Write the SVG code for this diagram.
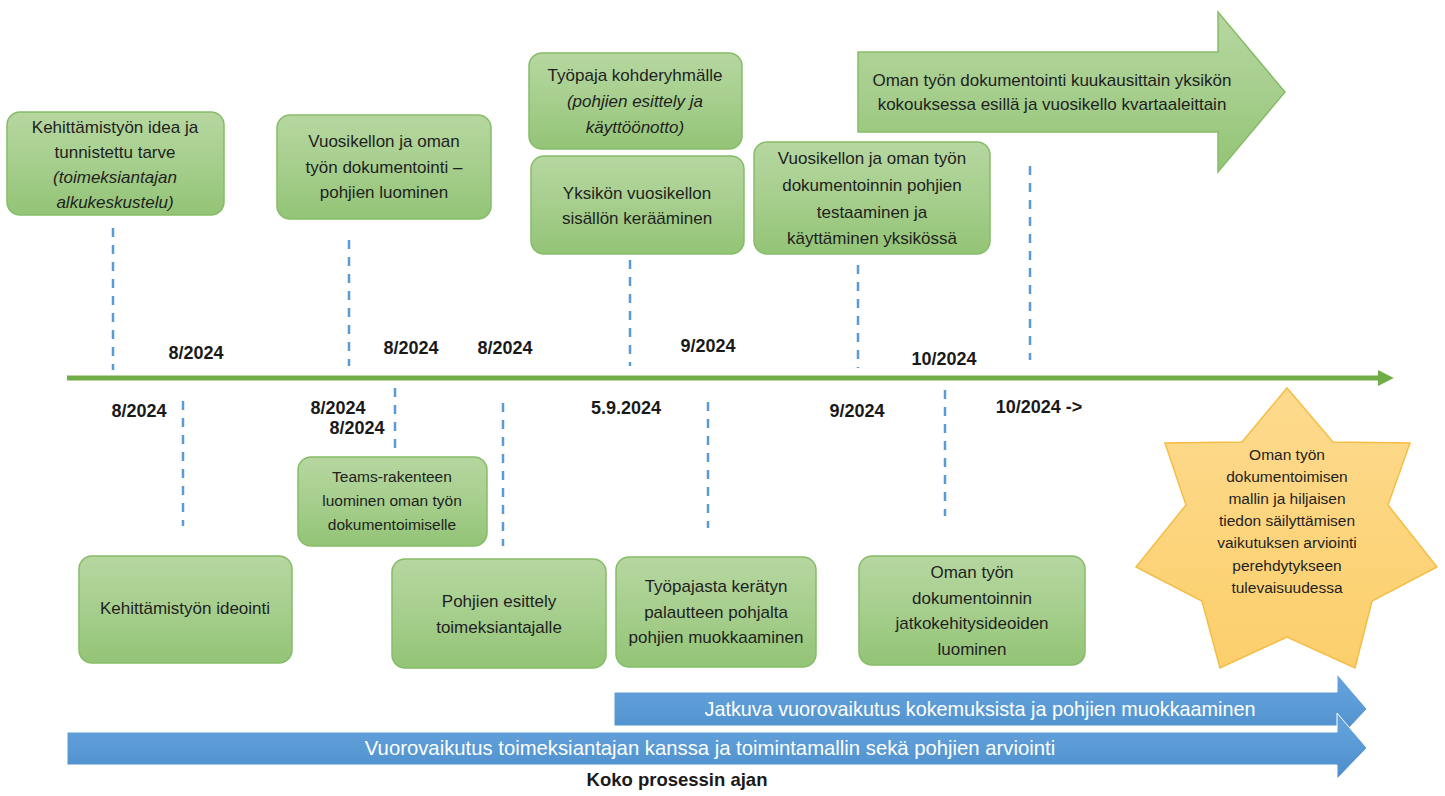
<svg xmlns="http://www.w3.org/2000/svg" width="1445" height="796" viewBox="0 0 1445 796">
<defs>
<linearGradient id="gg" x1="0" y1="0" x2="0" y2="1">
<stop offset="0" stop-color="#b6d7a0"/>
<stop offset="0.5" stop-color="#a6ce8d"/>
<stop offset="1" stop-color="#93c476"/>
</linearGradient>
<linearGradient id="bg" x1="0" y1="0" x2="0" y2="1">
<stop offset="0" stop-color="#65a2dd"/>
<stop offset="0.5" stop-color="#5b9bd5"/>
<stop offset="1" stop-color="#4a8ccb"/>
</linearGradient>
<linearGradient id="yg" x1="0" y1="0" x2="0" y2="1">
<stop offset="0" stop-color="#fdda8e"/>
<stop offset="1" stop-color="#fccf6c"/>
</linearGradient>
<marker id="gh" viewBox="0 0 10 10" refX="2" refY="5" markerWidth="3.2" markerHeight="3.6" orient="auto" markerUnits="strokeWidth">
<path d="M0,0 L10,5 L0,10 z" fill="#70ad47"/>
</marker>
<style>
.box{fill:url(#gg);stroke:#86bc68;stroke-width:1.5}
.t{font-family:"Liberation Sans",Arial,sans-serif;font-size:17px;fill:#1f1f1f;text-anchor:middle}
.s{font-size:15.5px}
.i{font-style:italic}
.d{font-family:"Liberation Sans",Arial,sans-serif;font-size:18px;font-weight:bold;fill:#1a1a1a;text-anchor:middle}
.w{font-family:"Liberation Sans",Arial,sans-serif;font-size:19.8px;fill:#ffffff;text-anchor:middle}
.dash{stroke:#5b9bd5;stroke-width:2.5;stroke-dasharray:9 8;fill:none}
</style>
</defs>
<rect width="1445" height="796" fill="#ffffff"/>

<g id="connectors">
<line x1="67" y1="378" x2="1381" y2="378" stroke="#70ad47" stroke-width="5" marker-end="url(#gh)"/>
<line class="dash" x1="113" y1="228" x2="113" y2="370"/>
<line class="dash" x1="349" y1="240" x2="349" y2="366"/>
<line class="dash" x1="630" y1="260" x2="630" y2="366"/>
<line class="dash" x1="858" y1="265" x2="858" y2="368"/>
<line class="dash" x1="1030" y1="166" x2="1030" y2="360"/>
<line class="dash" x1="183" y1="401" x2="183" y2="526"/>
<line class="dash" x1="395" y1="388" x2="395" y2="454"/>
<line class="dash" x1="503" y1="403" x2="503" y2="546"/>
<line class="dash" x1="708" y1="402" x2="708" y2="528"/>
<line class="dash" x1="945" y1="390" x2="945" y2="516"/>
</g>

<g id="dates">
<text class="d" x="196" y="359">8/2024</text>
<text class="d" x="411" y="354">8/2024</text>
<text class="d" x="505" y="354">8/2024</text>
<text class="d" x="708" y="352">9/2024</text>
<text class="d" x="944" y="365">10/2024</text>
<text class="d" x="139" y="417">8/2024</text>
<text class="d" x="338" y="414">8/2024</text>
<text class="d" x="357" y="434">8/2024</text>
<text class="d" x="626" y="414">5.9.2024</text>
<text class="d" x="857" y="417">9/2024</text>
<text class="d" x="1039" y="413">10/2024 -&gt;</text>
</g>

<g id="n1">
<rect class="box" x="7" y="112" width="217" height="103" rx="13"/>
<text class="t" x="115" y="133">Kehittämistyön idea ja</text>
<text class="t" x="115" y="158">tunnistettu tarve</text>
<text class="t i" x="115" y="183">(toimeksiantajan</text>
<text class="t i" x="115" y="208">alkukeskustelu)</text>
</g>
<g id="n2">
<rect class="box" x="277" y="115" width="214" height="104" rx="13"/>
<text class="t" x="384" y="147">Vuosikellon ja oman</text>
<text class="t" x="384" y="173">työn dokumentointi –</text>
<text class="t" x="384" y="198">pohjien luominen</text>
</g>
<g id="n3">
<rect class="box" x="529" y="53" width="213" height="96" rx="13"/>
<text class="t" x="635" y="81">Työpaja kohderyhmälle</text>
<text class="t i" x="635" y="107">(pohjien esittely ja</text>
<text class="t i" x="635" y="133">käyttöönotto)</text>
</g>
<g id="n4">
<rect class="box" x="531" y="156" width="213" height="98" rx="13"/>
<text class="t" x="637" y="199">Yksikön vuosikellon</text>
<text class="t" x="637" y="224">sisällön kerääminen</text>
</g>
<g id="n5">
<rect class="box" x="754" y="142" width="236" height="112" rx="13"/>
<text class="t" x="872" y="164">Vuosikellon ja oman työn</text>
<text class="t" x="872" y="191">dokumentoinnin pohjien</text>
<text class="t" x="872" y="218">testaaminen ja</text>
<text class="t" x="872" y="244">käyttäminen yksikössä</text>
</g>
<g id="n6">
<path d="M858,52 L1218,52 L1218,12 L1285,92 L1218,172 L1218,132 L858,132 Z" fill="url(#gg)" stroke="#86bc68" stroke-width="1.5"/>
<text class="t" x="1052" y="86">Oman työn dokumentointi kuukausittain yksikön</text>
<text class="t" x="1052" y="110">kokouksessa esillä ja vuosikello kvartaaleittain</text>
</g>
<g id="n7">
<rect class="box" x="79" y="556" width="213" height="107" rx="13"/>
<text class="t" x="185" y="614">Kehittämistyön ideointi</text>
</g>
<g id="n8">
<rect class="box" x="298" y="457" width="189" height="89" rx="13"/>
<text class="t s" x="392" y="482">Teams-rakenteen</text>
<text class="t s" x="392" y="506">luominen oman työn</text>
<text class="t s" x="392" y="530">dokumentoimiselle</text>
</g>
<g id="n9">
<rect class="box" x="392" y="559" width="214" height="109" rx="13"/>
<text class="t" x="499" y="607">Pohjien esittely</text>
<text class="t" x="499" y="633">toimeksiantajalle</text>
</g>
<g id="n10">
<rect class="box" x="616" y="557" width="200" height="110" rx="13"/>
<text class="t" x="716" y="592">Työpajasta kerätyn</text>
<text class="t" x="716" y="618">palautteen pohjalta</text>
<text class="t" x="716" y="643">pohjien muokkaaminen</text>
</g>
<g id="n11">
<rect class="box" x="859" y="556" width="226" height="109" rx="13"/>
<text class="t" x="972" y="578">Oman työn</text>
<text class="t" x="972" y="604">dokumentoinnin</text>
<text class="t" x="972" y="629">jatkokehitysideoiden</text>
<text class="t" x="972" y="655">luominen</text>
</g>
<g id="star">
<path d="M1287,388 L1333,442 L1410,443 L1388,505 L1437,567 L1372,601 L1355,668 L1287,637 L1220,668 L1202,601 L1136,567 L1186,505 L1165,443 L1242,442 Z" fill="url(#yg)" stroke="#f5bd45" stroke-width="1.5"/>
<text class="t s" x="1287" y="460">Oman työn</text>
<text class="t s" x="1287" y="482">dokumentoimisen</text>
<text class="t s" x="1287" y="504">mallin ja hiljaisen</text>
<text class="t s" x="1287" y="526">tiedon säilyttämisen</text>
<text class="t s" x="1287" y="548">vaikutuksen arviointi</text>
<text class="t s" x="1287" y="571">perehdytykseen</text>
<text class="t s" x="1287" y="593">tulevaisuudessa</text>
</g>
<g id="arrow-upper">
<path d="M614,692 L1337,692 L1337,674 L1367,709 L1337,741 L1337,726 L614,726 Z" fill="url(#bg)" stroke="#ffffff" stroke-width="1"/>
<text class="w" x="980" y="716">Jatkuva vuorovaikutus kokemuksista ja pohjien muokkaaminen</text>
</g>
<g id="arrow-lower">
<path d="M67,732 L1337,732 L1337,713 L1367,748 L1337,779 L1337,765 L67,765 Z" fill="url(#bg)" stroke="#ffffff" stroke-width="1"/>
<text class="w" x="710" y="755" style="font-size:20.3px">Vuorovaikutus toimeksiantajan kanssa ja toimintamallin sekä pohjien arviointi</text>
</g>
<text class="d" x="677" y="786" style="font-size:18.5px">Koko prosessin ajan</text>
</svg>
